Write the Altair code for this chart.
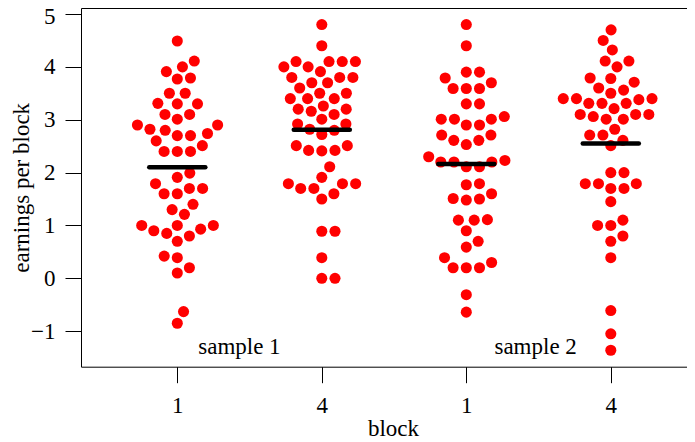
import math
import altair as alt
import pandas as pd

# ---------------- data ----------------
group_positions = [1, 2, 3, 4]
block_labels = ["1", "4", "1", "4"]

sample1_block1 = [4.49, 4.11, 4.00, 3.91, 3.77, 3.79, 3.50, 3.50, 3.30, 3.31, 3.30, 3.10, 3.10,
                  3.01, 2.90, 2.90, 2.82, 2.80, 2.70, 2.70, 2.74, 2.60, 2.51, 2.40, 2.40, 2.40,
                  1.91, 1.99, 1.79, 1.60, 1.60, 1.70, 1.70, 1.30, 1.40, 1.21, 1.00, 1.00, 1.00,
                  0.90, 0.93, 0.85, 0.80, 0.70, 0.42, 0.39, 0.20, 0.10, -0.63, -0.85]
sample1_block4 = [4.80, 4.40, 4.10, 4.10, 4.10, 4.10, 4.00, 4.00, 3.91, 3.80, 3.80, 3.80, 3.70,
                  3.70, 3.60, 3.40, 3.40, 3.40, 3.50, 3.50, 3.20, 3.16, 3.26, 3.20, 3.10, 3.01,
                  2.92, 2.92, 2.80, 2.82, 2.72, 2.51, 2.51, 2.42, 2.42, 2.41, 2.11, 1.79, 1.70,
                  1.70, 1.79, 1.79, 1.91, 1.60, 1.50, 0.89, 0.89, 0.39, 0.00, 0.00]
sample2_block1 = [4.80, 4.40, 3.90, 3.90, 3.79, 3.70, 3.59, 3.59, 3.59, 3.30, 3.30, 3.01, 3.01,
                  2.90, 2.90, 3.01, 3.06, 2.71, 2.61, 2.53, 2.61, 2.71, 2.30, 2.20, 2.20, 2.20,
                  2.23, 2.11, 2.11, 1.77, 1.79, 1.50, 1.48, 1.51, 1.60, 1.10, 1.10, 1.11, 0.90,
                  0.59, 0.70, 0.39, 0.20, 0.20, 0.20, 0.30, -0.31, -0.64]
sample2_block4 = [4.70, 4.50, 4.32, 4.11, 4.11, 4.00, 3.79, 3.78, 3.71, 3.60, 3.50, 3.56, 3.40,
                  3.40, 3.38, 3.40, 3.31, 3.31, 3.31, 3.21, 3.10, 3.06, 3.01, 3.01, 3.10, 3.10,
                  2.82, 2.71, 2.71, 2.61, 2.51, 2.00, 2.00, 1.79, 1.79, 1.70, 1.70, 1.79, 1.45,
                  1.00, 1.00, 1.10, 0.70, 0.80, 0.39, -0.61, -1.05, -1.36]
groups = [sample1_block1, sample1_block4, sample2_block1, sample2_block4]

sample_labels = ["sample 1", "sample 2"]
sample_label_x = [1.43, 3.48]
sample_label_y = [-1.43, -1.43]

y_ticks = [-1, 0, 1, 2, 3, 4, 5]

# ---------------- layout ----------------
FONT = "Liberation Serif"
FS = 23
PX_PER_GROUP = 144.5
PLOT_W = 606           # box runs to the right edge of the page
PLOT_H = 358.7
X_DOMAIN = [0.3336, 0.3336 + PLOT_W / PX_PER_GROUP]
Y_DOMAIN = [-1.672, 5.1135]
px_per_x = PLOT_W / (X_DOMAIN[1] - X_DOMAIN[0])
px_per_y = PLOT_H / (Y_DOMAIN[1] - Y_DOMAIN[0])
SWARM_PX = 13.2      # beeswarm point spacing in pixels
BAR_HALF = 0.194     # half length of the mean bar, x units


def swarm_offsets(values):
    """beeswarm 'swarm' method, priority ascending (as in R beeswarm)."""
    dsize = SWARM_PX / px_per_y
    order = sorted(range(len(values)), key=lambda i: values[i])
    placed = []
    offsets = [0.0] * len(values)
    for idx in order:
        xi = values[idx] / dsize
        pots = [(px, py) for (px, py) in placed if abs(xi - px) < 1]
        if pots:
            offs = [math.sqrt(1 - (xi - px) ** 2) for px, py in pots]
            cands = [0.0] + [py + o for (px, py), o in zip(pots, offs)] + \
                    [py - o for (px, py), o in zip(pots, offs)]
            best = None
            for c in cands:
                if any((xi - px) ** 2 + (c - py) ** 2 < 0.999 for px, py in pots):
                    continue
                if best is None or abs(c) < abs(best):
                    best = c
            yoff = best
        else:
            yoff = 0.0
        placed.append((xi, yoff))
        offsets[idx] = yoff * SWARM_PX / px_per_x
    return offsets


rows = []
mean_rows = []
for g, vals in zip(group_positions, groups):
    offs = swarm_offsets(vals)
    for v, o in zip(vals, offs):
        rows.append({"group": g, "value": v, "xpos": g + o})
    m = sum(vals) / len(vals)
    mean_rows.append({"x0": g - BAR_HALF, "x1": g + BAR_HALF, "mean": m})
df = pd.DataFrame(rows)
means = pd.DataFrame(mean_rows)
texts = pd.DataFrame({"x": sample_label_x, "y": sample_label_y, "label": sample_labels})

label_expr = "[''," + ",".join("'%s'" % s for s in block_labels) + "][datum.value]"

x_scale = alt.Scale(domain=X_DOMAIN, nice=False, zero=False)
y_scale = alt.Scale(domain=Y_DOMAIN, nice=False, zero=False)

points = alt.Chart(df).mark_circle(color="#FF0000", opacity=1, size=123).encode(
    x=alt.X("xpos:Q", scale=x_scale,
            axis=alt.Axis(values=group_positions, labelExpr=label_expr, title="block",
                          tickSize=16, labelPadding=12, labelFlush=False,
                          titleX=312, titleY=68.5, titleBaseline="alphabetic",
                          titleAlign="center", grid=False)),
    y=alt.Y("value:Q", scale=y_scale,
            axis=alt.Axis(values=y_ticks, title="earnings per block", tickSize=16,
                          labelPadding=10, labelFlush=False,
                          labelOffset={"condition": {"test": "datum.value === 5", "value": 3},
                                       "value": 0},
                          titleX=-53, titleY=PLOT_H / 2,
                          titleAngle=-90, titleBaseline="alphabetic", titleAlign="center",
                          grid=False)),
)

bars = alt.Chart(means).mark_rule(color="black", strokeWidth=4.5, strokeCap="round").encode(
    x=alt.X("x0:Q", scale=x_scale, axis=None),
    x2="x1:Q",
    y=alt.Y("mean:Q", scale=y_scale),
)

labels = alt.Chart(texts).mark_text(font=FONT, fontSize=FS, color="black",
                                    baseline="alphabetic", align="center").encode(
    x=alt.X("x:Q", scale=x_scale,
            axis=alt.Axis(orient="top", domain=True, ticks=False, labels=False,
                          title=None, grid=False)),
    y=alt.Y("y:Q", scale=y_scale),
    text="label:N",
)

chart = alt.layer(points, bars, labels).resolve_axis(x="independent").properties(
    width=PLOT_W, height=PLOT_H,
    autosize=alt.AutoSizeParams(type="none"),
    padding={"left": 73, "top": 0, "right": 0, "bottom": 75.3},
).configure_view(stroke=None).configure_axis(
    domainColor="black", tickColor="black", labelColor="black", titleColor="black",
    labelFont=FONT, titleFont=FONT, labelFontSize=FS, titleFontSize=FS,
    titleFontWeight="normal", domainWidth=1, tickWidth=1,
)

chart.save("out.html", embed_options={"renderer": "svg", "actions": False})
